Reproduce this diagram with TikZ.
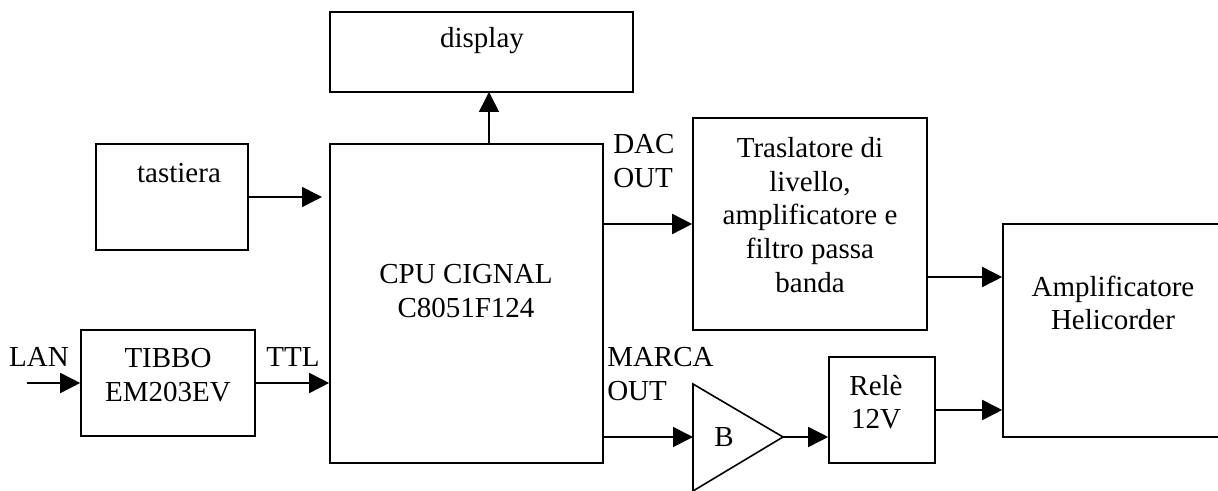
\documentclass[tikz,border=0pt]{standalone}
\usepackage{fontspec}
\setmainfont{Liberation Serif}
\usetikzlibrary{arrows.meta}
\tikzset{
 blockbox/.style={draw,line width=1.2pt,inner sep=0pt},
 lbl/.style={inner sep=0pt,align=center,font=\fontsize{21.75}{25.2}\selectfont},
 conn/.style={line width=1.2pt,-{Triangle[length=15pt,width=15pt]}}
}
\newcommand{\px}{0.75pt}
\begin{document}
\begin{tikzpicture}[x=0.75pt,y=-0.75pt]
\useasboundingbox (0,0) rectangle (1218,491);
\node[blockbox,minimum width=303*\px,minimum height=80*\px] (disp) at (481.5,52) {};
\node[blockbox,minimum width=152*\px,minimum height=106*\px] (tast) at (172,197) {};
\node[blockbox,minimum width=273*\px,minimum height=319*\px] (cpu) at (466.5,303.5) {};
\node[blockbox,minimum width=234*\px,minimum height=212*\px] (tras) at (810,224) {};
\node[blockbox,minimum width=220*\px,minimum height=213*\px] (amp) at (1113,330.5) {};
\node[blockbox,minimum width=174*\px,minimum height=106*\px] (tibbo) at (168,383) {};
\node[blockbox,minimum width=106*\px,minimum height=106*\px] (rele) at (882,410) {};
\draw[line width=1.2pt,line join=miter] (693,384) coordinate (ba) -- (693,491) coordinate (bb) -- (783,437) coordinate (bc) -- cycle;
\node[lbl] (disptxt) at (482,41) {display};
\node[lbl] (tasttxt) at (179,173) {tastiera};
\node[lbl] (cputxt) at (466,291) {CPU CIGNAL\\C8051F124};
\node[lbl] (trastxt) at (810,215) {Traslatore di\\livello,\\amplificatore e\\filtro passa\\banda};
\node[lbl] (amptxt) at (1113,303) {Amplificatore\\Helicorder};
\node[lbl] (tibbotxt) at (168,375) {TIBBO\\EM203EV};
\node[lbl] (reletxt) at (876,402) {Relè\\12V};
\node[lbl] (btxt) at (724,437) {B};
\node[lbl] (lan) at (39,357) {LAN};
\node[lbl] (ttl) at (293,357) {TTL};
\node[lbl,align=left,anchor=west] (dac) at (613,161) {DAC\\OUT};
\node[lbl,align=left,anchor=west] (marca) at (607,374) {MARCA\\OUT};
\coordinate (lanS) at (27,383);
\coordinate (tastE) at (322,197);
\coordinate (upS) at (489,92);
\coordinate (y277) at (0,277);
\coordinate (y410) at (0,410);
\coordinate (y437) at (0,437);
\draw[conn] (lanS) -- (tibbo.west);
\draw[conn] (tibbo.east) -- (cpu.west|-tibbo.east);
\draw[conn] (tast.east) -- (tastE);
\draw[conn] (cpu.north-|upS) -- (upS);
\draw[conn] (cpu.east|-tras.west) -- (tras.west);
\draw[conn] (tras.east|-y277) -- (amp.west|-y277);
\draw[conn] (cpu.east|-y437) -- (ba|-y437);
\draw[conn] (bc) -- (rele.west|-bc);
\draw[conn] (rele.east) -- (amp.west|-rele.east);
\end{tikzpicture}
\end{document}
